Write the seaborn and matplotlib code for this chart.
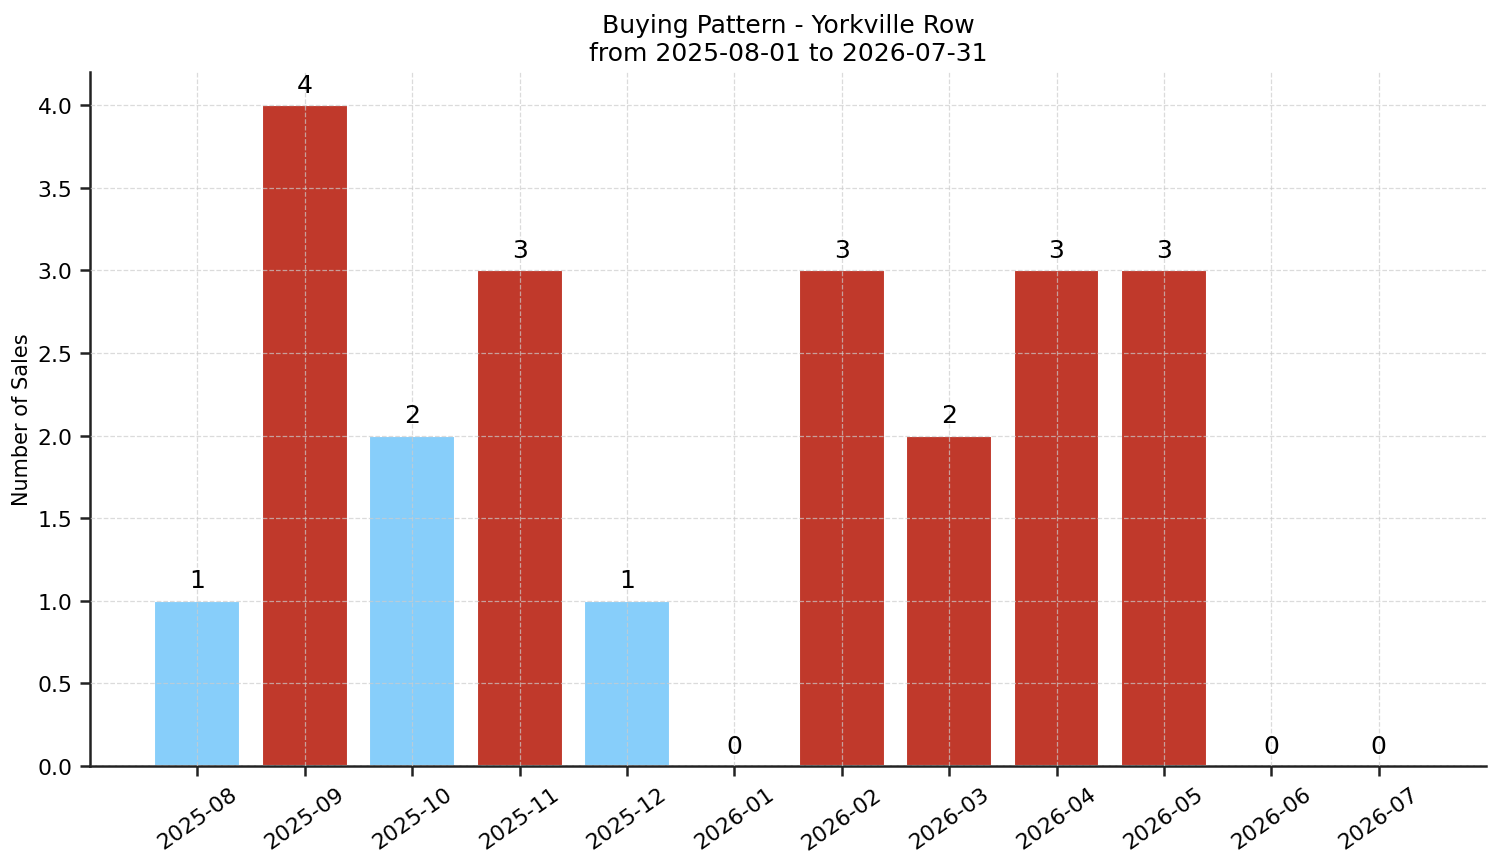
#!/usr/bin/env python3
import matplotlib
matplotlib.use("Agg")
from matplotlib import pyplot as plt
import seaborn as sns
import pandas as pd

months = ["2025-08", "2025-09", "2025-10", "2025-11", "2025-12", "2026-01",
          "2026-02", "2026-03", "2026-04", "2026-05", "2026-06", "2026-07"]
sales = [1, 4, 2, 3, 1, 0, 3, 2, 3, 3, 0, 0]
bar_colors = ["#87CEFA", "#C0392B", "#87CEFA", "#C0392B", "#87CEFA", "#87CEFA",
              "#C0392B", "#C0392B", "#C0392B", "#C0392B", "#87CEFA", "#87CEFA"]

sns.set_style("white")
plt.rcParams['font.family'] = ['DejaVu Sans']
plt.rcParams['text.color'] = 'black'
plt.rcParams['axes.labelcolor'] = 'black'
plt.rcParams['xtick.color'] = '#222222'
plt.rcParams['ytick.color'] = '#222222'
plt.rcParams['xtick.labelcolor'] = 'black'
plt.rcParams['ytick.labelcolor'] = 'black'
plt.rcParams['axes.edgecolor'] = '#222222'

df = pd.DataFrame({'month': months, 'sales': sales})

fig, ax = plt.subplots(figsize=(10.007, 5.753), dpi=150)
sns.barplot(data=df, x='month', y='sales', hue='month', palette=bar_colors,
            width=0.8, saturation=1, legend=False, ax=ax)

for i, v in enumerate(sales):
    ax.text(i, v + 0.05, str(v), ha='center', va='bottom', fontsize=12)

ax.set_xlim(-1, 12)
ax.set_ylim(0, 4.2)
ax.set_xlabel('')
ax.set_ylabel('Number of Sales', fontsize=10, labelpad=2.5)
ax.set_title('Buying Pattern - Yorkville Row\nfrom 2025-08-01 to 2026-07-31', fontsize=12)
ax.tick_params(axis='x', rotation=35, labelsize=10.5, length=5, width=1.2, bottom=True)
ax.tick_params(axis='y', labelsize=10.5, length=5, width=1.2, left=True)
for s in ('left', 'bottom'):
    ax.spines[s].set_linewidth(1.2)
ax.set_axisbelow(False)
ax.grid(True, linestyle='--', linewidth=0.6, color='#cccccc', alpha=0.7)
sns.despine(ax=ax)

fig.subplots_adjust(left=0.060, right=0.990, top=0.9154, bottom=0.1112)
fig.savefig('out.png', dpi=150)
